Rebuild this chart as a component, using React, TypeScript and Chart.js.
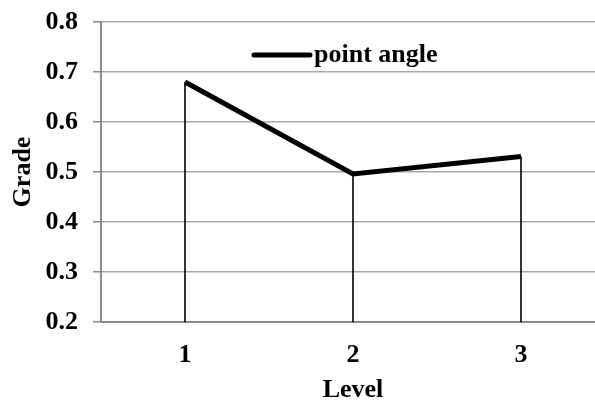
import React, { useEffect, useRef } from "react";
import { Chart, registerables } from "chart.js";

Chart.register(...registerables);

const categories = ["1", "2", "3"];
const seriesLabel = "point angle";
const gradeValues = [0.68, 0.496, 0.531];
const yMin = 0.2;
const yMax = 0.8;
const yStep = 0.1;
const xTitle = "Level";
const yTitle = "Grade";

const FONT = "'Liberation Serif', 'Times New Roman', serif";

const dropLines = {
  id: "dropLines",
  beforeDatasetsDraw(chart: any) {
    const { ctx, chartArea } = chart;
    const meta = chart.getDatasetMeta(0);
    ctx.save();
    ctx.strokeStyle = "#000";
    ctx.lineWidth = 1.6;
    meta.data.forEach((pt: any) => {
      ctx.beginPath();
      ctx.moveTo(pt.x, pt.y);
      ctx.lineTo(pt.x, chartArea.bottom);
      ctx.stroke();
    });
    ctx.restore();
  },
};

const innerLegend = {
  id: "innerLegend",
  afterDraw(chart: any) {
    const { ctx, chartArea } = chart;
    const ds = chart.data.datasets[0];
    const x0 = chartArea.left + 153;
    const y = chartArea.top + 33;
    ctx.save();
    ctx.strokeStyle = "#000";
    ctx.lineWidth = 5;
    ctx.lineCap = "round";
    ctx.beginPath();
    ctx.moveTo(x0, y);
    ctx.lineTo(x0 + 56, y);
    ctx.stroke();
    ctx.fillStyle = "#000";
    ctx.font = `bold 26px ${FONT}`;
    ctx.textAlign = "left";
    ctx.textBaseline = "middle";
    ctx.fillText(ds.label, x0 + 60, y);
    ctx.restore();
  },
};

export default function App() {
  const ref = useRef<HTMLCanvasElement>(null);
  useEffect(() => {
    if (!ref.current) return;
    const chart = new Chart(ref.current, {
      type: "line",
      data: {
        labels: categories,
        datasets: [
          {
            label: seriesLabel,
            data: gradeValues,
            borderColor: "#000",
            backgroundColor: "#000",
            borderWidth: 5,
            pointRadius: 0,
            tension: 0,
          },
        ],
      },
      options: {
        animation: false,
        responsive: false,
        devicePixelRatio: 1,
        layout: { padding: { top: 22, right: 0, left: 0, bottom: 0 } },
        plugins: {
          legend: { display: false },
          tooltip: { enabled: false },
        },
        scales: {
          x: {
            type: "category",
            offset: true,
            afterFit: (s: any) => {
              s.height = 81;
              s.paddingLeft = 0;
              s.paddingRight = 0;
            },
            grid: { display: false, drawTicks: false },
            border: { display: true, color: "#8c8c8c", width: 2 },
            ticks: {
              color: "#000",
              padding: 18,
              font: { family: FONT, size: 26, weight: "bold" },
            },
            title: {
              display: true,
              text: xTitle,
              color: "#000",
              font: { family: FONT, size: 26, weight: "bold", lineHeight: 1 },
              padding: { top: 0, bottom: 0 },
            },
          },
          y: {
            min: yMin,
            max: yMax,
            afterFit: (s: any) => {
              s.width = 101;
              s.paddingTop = 0;
              s.paddingBottom = 0;
            },
            grid: {
              color: "#a8a8a8",
              lineWidth: 1.5,
              tickLength: 8,
              tickColor: "#8c8c8c",
            },
            border: { display: true, color: "#8c8c8c", width: 2 },
            ticks: {
              stepSize: yStep,
              color: "#000",
              padding: 15,
              font: { family: FONT, size: 26, weight: "bold" },
              callback: (v: any) => Number(v).toFixed(1),
            },
            title: {
              display: true,
              text: yTitle,
              color: "#000",
              font: { family: FONT, size: 26, weight: "bold", lineHeight: 1 },
              padding: { top: 10, bottom: 0 },
            },
          },
        },
      },
      plugins: [dropLines, innerLegend],
    } as any);
    return () => chart.destroy();
  }, []);
  return (
    <div
      style={{
        position: "fixed",
        left: 0,
        top: 0,
        width: 595,
        height: 403,
        overflow: "hidden",
        background: "#fff",
      }}
    >
      <canvas
        ref={ref}
        width={605}
        height={403}
        style={{ display: "block", width: 605, height: 403 }}
      />
    </div>
  );
}
